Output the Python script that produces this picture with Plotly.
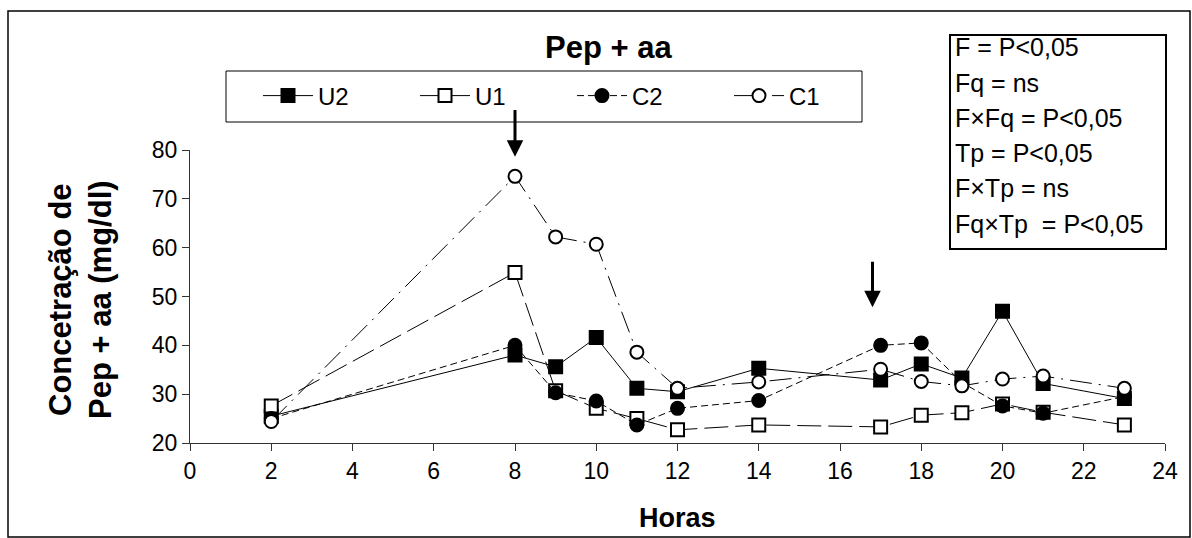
import plotly.graph_objects as go

# ---- data ----
horas = [2, 8, 9, 10, 11, 12, 14, 17, 18, 19, 20, 21, 23]
U2 = [25.5, 38.0, 35.6, 41.6, 31.2, 30.5, 35.3, 32.9, 36.2, 33.3, 47.0, 32.2, 29.1]
U1 = [27.6, 54.9, 30.7, 27.1, 25.0, 22.7, 23.7, 23.3, 25.7, 26.2, 28.0, 26.3, 23.7]
C2 = [25.0, 40.0, 30.3, 28.6, 23.7, 27.1, 28.7, 40.0, 40.5, 32.4, 27.6, 26.1, 29.5]
C1 = [24.4, 74.6, 62.2, 60.7, 38.6, 31.2, 32.5, 35.1, 32.6, 31.7, 33.1, 33.7, 31.2]

series_names = ["U2", "U1", "C2", "C1"]
stats_lines = ["F = P<0,05", "Fq = ns", "F\u00d7Fq = P<0,05", "Tp = P<0,05",
               "F\u00d7Tp = ns", "Fq\u00d7Tp  = P<0,05"]
arrow_x = [8, 16.8]
arrow_top = [88.5, 57.4]
arrow_tip = [78.6, 47.8]

# ---- layout geometry (pixels) ----
W, H = 1192, 538
L, R, T, B = 190, 27, 150, 95
PW, PH = W - L - R, H - T - B


def px(xp):
    return (xp - L) / PW


def py(yp):
    return (H - B - yp) / PH


FONT = "Liberation Sans, Arial, sans-serif"

styles = [
    dict(dash="solid", symbol="square", fill="black"),
    dict(dash="24px,7px", symbol="square", fill="white"),
    dict(dash="7px,4px", symbol="circle", fill="black"),
    dict(dash="22px,7px,2px,7px", symbol="circle", fill="white"),
]

fig = go.Figure()
for name, vals, st in zip(series_names, [U2, U1, C2, C1], styles):
    fig.add_trace(go.Scatter(
        x=horas, y=vals, name=name, mode="lines+markers",
        line=dict(color="black", width=1, dash=st["dash"]),
        marker=dict(symbol=st["symbol"], size=13, color=st["fill"],
                    line=dict(color="black", width=2)),
        cliponaxis=False,
    ))

annotations = []
# title
annotations.append(dict(text="<b>Pep + aa</b>", x=px(608), y=py(48), xref="paper", yref="paper",
                        showarrow=False, font=dict(size=31, family=FONT, color="black"),
                        xanchor="center", yanchor="middle"))
# axis titles
annotations.append(dict(text="<b>Concetração de<br>Pep + aa (mg/dl)</b>", x=px(80), y=py(300),
                        xref="paper", yref="paper", showarrow=False, textangle=-90,
                        font=dict(size=31, family=FONT, color="black"),
                        xanchor="center", yanchor="middle"))
annotations.append(dict(text="<b>Horas</b>", x=px(677), y=py(518), xref="paper", yref="paper",
                        showarrow=False, font=dict(size=27, family=FONT, color="black"),
                        xanchor="center", yanchor="middle"))
# stats box text
stat_y = [47, 83, 118, 153, 188, 224]
for s, yy in zip(stats_lines, stat_y):
    annotations.append(dict(text=s, x=px(953), y=py(yy), xref="paper", yref="paper",
                            showarrow=False, font=dict(size=25, family=FONT, color="black"),
                            xanchor="left", yanchor="middle"))
# arrows
for ax_, top, tip in zip(arrow_x, arrow_top, arrow_tip):
    annotations.append(dict(x=ax_, y=tip, ax=ax_, ay=top, xref="x", yref="y",
                            axref="x", ayref="y", text="", showarrow=True,
                            arrowhead=2, arrowsize=1.1, arrowwidth=3, arrowcolor="black"))

shapes = [
    # outer frame
    dict(type="rect", xref="paper", yref="paper", x0=px(8), x1=px(1190), y0=py(537), y1=py(11),
         line=dict(color="black", width=1.5), fillcolor="rgba(0,0,0,0)"),
    # legend frame
    dict(type="rect", xref="paper", yref="paper", x0=px(226), x1=px(862), y0=py(122), y1=py(71),
         line=dict(color="black", width=1), fillcolor="rgba(0,0,0,0)"),
    # stats frame
    dict(type="rect", xref="paper", yref="paper", x0=px(950), x1=px(1166), y0=py(249), y1=py(35),
         line=dict(color="black", width=2), fillcolor="rgba(0,0,0,0)"),
]

fig.update_layout(
    width=W, height=H,
    margin=dict(l=L, r=R, t=T, b=B, autoexpand=False),
    paper_bgcolor="white", plot_bgcolor="white",
    font=dict(family=FONT, color="black", size=22),
    showlegend=True,
    legend=dict(orientation="h", x=px(258), y=py(96), xanchor="left", yanchor="middle",
                font=dict(size=24, family=FONT, color="black"),
                itemwidth=50, entrywidth=92, entrywidthmode="pixels",
                bgcolor="rgba(0,0,0,0)", borderwidth=0),
    annotations=annotations,
    shapes=shapes,
    xaxis=dict(range=[0, 24], dtick=2, tick0=0, showgrid=False, zeroline=False,
               showline=True, linecolor="#333", linewidth=1, ticks="outside", ticklen=7,
               tickcolor="#333", tickfont=dict(size=23, family=FONT, color="black")),
    yaxis=dict(range=[20, 80], dtick=10, tick0=20, showgrid=False, zeroline=False,
               showline=True, linecolor="#333", linewidth=1, ticks="outside", ticklen=7,
               tickcolor="#333", tickfont=dict(size=23, family=FONT, color="black")),
)

fig.write_html("out.html", config={"displayModeBar": False},
               post_script="document.body.style.margin='0px';document.body.style.overflow='hidden';")
